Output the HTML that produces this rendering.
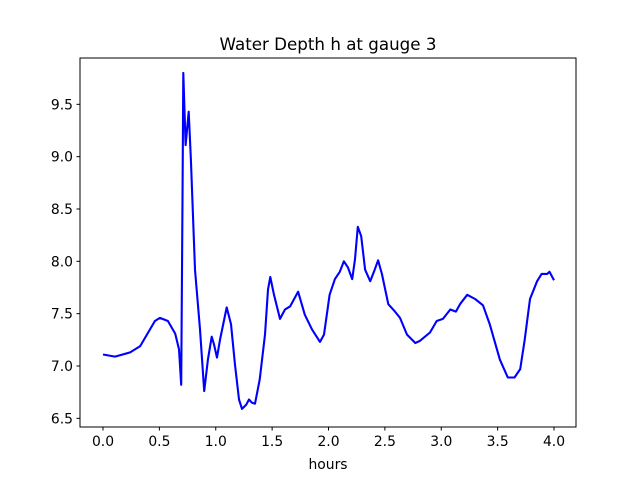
<!DOCTYPE html>
<html><head><meta charset="utf-8"><style>
body{margin:0;background:#fff;}
svg text{font-family:"DejaVu Sans","Liberation Sans",sans-serif;fill:#000;}
</style></head><body>
<svg id="chart" width="640" height="480" viewBox="0 0 640 480" xmlns="http://www.w3.org/2000/svg">
<rect width="640" height="480" fill="#fff"/>
<text x="328" y="50" font-size="16.7" text-anchor="middle">Water Depth h at gauge 3</text>
<g id="xticks"></g>
<g id="yticks"></g>
<polyline id="line" fill="none" stroke="#0000ff" stroke-width="2.1" stroke-linejoin="round"/>
<rect x="80" y="58" width="496" height="369" fill="none" stroke="#000" stroke-width="1"/>
<text x="328" y="469" font-size="13.9" text-anchor="middle">hours</text>
</svg>
<script>
const hours=[0,0.106,0.24,0.33,0.46,0.505,0.576,0.64,0.674,0.694,0.705,0.712,0.733,0.76,0.78,0.816,0.86,0.898,0.93,0.964,0.984,1.011,1.038,1.097,1.135,1.17,1.206,1.233,1.27,1.295,1.32,1.348,1.39,1.437,1.463,1.484,1.517,1.57,1.614,1.66,1.73,1.79,1.854,1.925,1.96,2.01,2.057,2.1,2.137,2.173,2.21,2.235,2.26,2.29,2.325,2.37,2.41,2.44,2.474,2.53,2.59,2.634,2.696,2.77,2.81,2.9,2.96,3.015,3.08,3.13,3.166,3.23,3.3,3.37,3.43,3.52,3.59,3.65,3.7,3.74,3.787,3.85,3.89,3.94,3.96,4.0];
const depth=[7.11,7.09,7.13,7.19,7.43,7.46,7.43,7.31,7.16,6.82,8.59,9.80,9.11,9.43,8.97,7.92,7.35,6.76,7.06,7.28,7.21,7.08,7.25,7.56,7.40,7.02,6.68,6.59,6.63,6.68,6.65,6.64,6.87,7.30,7.73,7.85,7.68,7.45,7.54,7.57,7.71,7.49,7.35,7.23,7.30,7.68,7.83,7.90,8.00,7.94,7.83,8.02,8.33,8.24,7.92,7.81,7.92,8.01,7.88,7.59,7.52,7.46,7.30,7.22,7.24,7.32,7.43,7.45,7.54,7.52,7.59,7.68,7.64,7.58,7.40,7.06,6.89,6.89,6.97,7.25,7.64,7.81,7.88,7.88,7.90,7.82];
const xTicks=[0,0.5,1,1.5,2,2.5,3,3.5,4];
const xTickLabels=["0.0","0.5","1.0","1.5","2.0","2.5","3.0","3.5","4.0"];
const yTicks=[6.5,7,7.5,8,8.5,9,9.5];
const yTickLabels=["6.5","7.0","7.5","8.0","8.5","9.0","9.5"];
const xs=h=>103+h*112.75;
const ys=v=>366-(v-7)*104.67;
const NS="http://www.w3.org/2000/svg";
document.getElementById('line').setAttribute('points',hours.map((h,i)=>xs(h).toFixed(1)+','+ys(depth[i]).toFixed(1)).join(' '));
const gx=document.getElementById('xticks');
xTicks.forEach((t,i)=>{
 const l=document.createElementNS(NS,'line');
 
 
 l.setAttribute('x1',xs(t));l.setAttribute('x2',xs(t));l.setAttribute('y1',427);l.setAttribute('y2',430.5);l.setAttribute('stroke','#000');
 gx.appendChild(l);
 const tx=document.createElementNS(NS,'text');
 
 
 tx.setAttribute('x',xs(t));tx.setAttribute('y',446);tx.setAttribute('font-size','13.9');tx.setAttribute('text-anchor','middle');
 tx.textContent=xTickLabels[i];gx.appendChild(tx);
});
const gy=document.getElementById('yticks');
yTicks.forEach((t,i)=>{
 const l=document.createElementNS(NS,'line');
 
 
 l.setAttribute('x1',76.5);l.setAttribute('x2',80);l.setAttribute('y1',ys(t));l.setAttribute('y2',ys(t));l.setAttribute('stroke','#000');
 gy.appendChild(l);
 const tx=document.createElementNS(NS,'text');
 
 
 tx.setAttribute('x',73);tx.setAttribute('y',ys(t)+5);tx.setAttribute('font-size','13.9');tx.setAttribute('text-anchor','end');
 tx.textContent=yTickLabels[i];gy.appendChild(tx);
});
</script>
</body></html>
